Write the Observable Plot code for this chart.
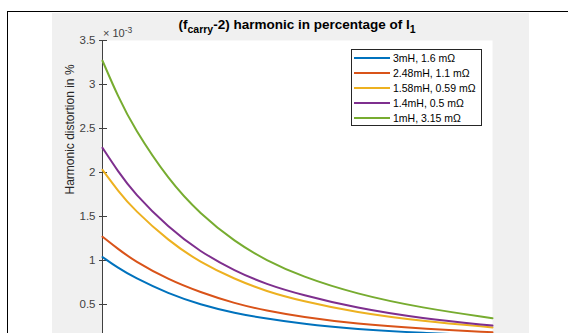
<!DOCTYPE html>
<html>
<head>
<meta charset="utf-8">
<script src="https://cdn.jsdelivr.net/npm/d3@7"></script>
<script src="https://cdn.jsdelivr.net/npm/@observablehq/plot@0.6"></script>
<style>
  html, body { margin: 0; padding: 0; background: #fff; width: 568px; height: 333px; overflow: hidden; }
  #wrap { position: relative; width: 568px; height: 333px; overflow: hidden; font-family: "Liberation Sans", Arial, sans-serif; }
  .abs { position: absolute; }
  #frame { left: 7px; top: 11px; width: 600px; height: 400px; border-top: 1.5px solid #000; border-left: 1.5px solid #000; }
  #gray { left: 52px; top: 12.5px; width: 477px; height: 400px; background: #f0f0f0; }
  #chart { left: 0; top: 0; }
  #title { left: 102px; width: 390px; top: 17px; text-align: center; font-weight: bold; font-size: 13.5px; color: #000; white-space: nowrap; }
  #title sub { font-size: 10.5px; vertical-align: -4px; line-height: 0; }
  #exp { left: 103px; top: 27px; font-size: 11px; color: #404040; white-space: nowrap; }
  #exp sup { font-size: 8.5px; vertical-align: 4px; line-height: 0; }
  #legend { left: 351px; top: 49px; width: 131px; height: 77px; background: #fff; border: 1px solid #262626; box-sizing: border-box; font-size: 10.5px; color: #000; }
  .row { position: absolute; left: 2px; height: 15px; line-height: 15px; white-space: nowrap; }
  .sw { display: inline-block; width: 36px; height: 2px; vertical-align: middle; margin-right: 3px; position: relative; top: -1px; }
</style>
</head>
<body>
<div id="wrap">
  <div id="frame" class="abs"></div>
  <div id="gray" class="abs"></div>
  <div id="chart" class="abs"></div>
  <div id="title" class="abs">(f<sub>carry</sub>-2) harmonic in percentage of I<sub>1</sub></div>
  <div id="exp" class="abs">× 10<sup>-3</sup></div>
  <div id="legend" class="abs"></div>
</div>
<script>
// x positions (arbitrary units, x-axis is cropped out in the reference)
const xs = [0, 0.4, 0.8, 1.7, 2.5, 3.4, 4.2, 5.1, 6.5, 8.2, 10];
// series values (×10^-3 %)
const s3mH   = [1.04, 0.915, 0.81, 0.62, 0.50, 0.40, 0.34, 0.28, 0.22, 0.176, 0.145];
const s248mH = [1.27, 1.13, 1.00, 0.78, 0.64, 0.51, 0.43, 0.36, 0.28, 0.225, 0.185];
const s158mH = [2.03, 1.79, 1.58, 1.22, 0.98, 0.785, 0.65, 0.54, 0.41, 0.31, 0.24];
const s14mH  = [2.28, 2.01, 1.77, 1.37, 1.10, 0.88, 0.73, 0.61, 0.46, 0.34, 0.26];
const s1mH   = [3.27, 2.86, 2.51, 1.91, 1.53, 1.21, 1.00, 0.82, 0.62, 0.46, 0.345];
const seriesNames = ["3mH, 1.6 mΩ", "2.48mH, 1.1 mΩ", "1.58mH, 0.59 mΩ", "1.4mH, 0.5 mΩ", "1mH, 3.15 mΩ"];
const seriesValues = [s3mH, s248mH, s158mH, s14mH, s1mH];
const colors = ["#0072BD", "#D95319", "#EDB120", "#7E2F8E", "#77AC30"];
const yTicks = [0.5, 1, 1.5, 2, 2.5, 3, 3.5];

const data = [];
seriesNames.forEach((name, i) => {
  seriesValues[i].forEach((v, j) => data.push({series: name, x: xs[j], y: v}));
});

const chart = Plot.plot({
  width: 568,
  height: 400,
  marginLeft: 102,
  marginRight: 76,
  marginTop: 40,
  marginBottom: 52,
  style: {background: "transparent", fontFamily: "Liberation Sans, Arial, sans-serif"},
  x: {domain: [0, 10], axis: null},
  y: {domain: [0, 3.5]},
  color: {domain: seriesNames, range: colors},
  marks: [
    Plot.frame({fill: "white", stroke: null}),
    Plot.axisY({ticks: yTicks, tickSize: 3, tickPadding: 4, fontSize: 11.5, color: "#404040", label: null, tickFormat: d => String(d)}),
    Plot.axisY({ticks: yTicks, tickSize: -5, text: null, label: null, color: "#404040"}),
    Plot.ruleX([0], {stroke: "#404040", strokeWidth: 1}),
    Plot.line(data, {x: "x", y: "y", z: "series", stroke: "series", strokeWidth: 2, curve: "basis"}),
    Plot.text(["Harmonic distortion in %"], {frameAnchor: "left", dx: -32, rotate: -90, fontSize: 12, fill: "#262626", text: d => d})
  ]
});
document.getElementById("chart").appendChild(chart);

const leg = document.getElementById("legend");
seriesNames.forEach((n, i) => {
  const r = document.createElement("div");
  r.className = "row";
  r.style.top = (1 + i * 15) + "px";
  r.innerHTML = `<span class="sw" style="background:${colors[i]}"></span>${n}`;
  leg.appendChild(r);
});
</script>
</body>
</html>
